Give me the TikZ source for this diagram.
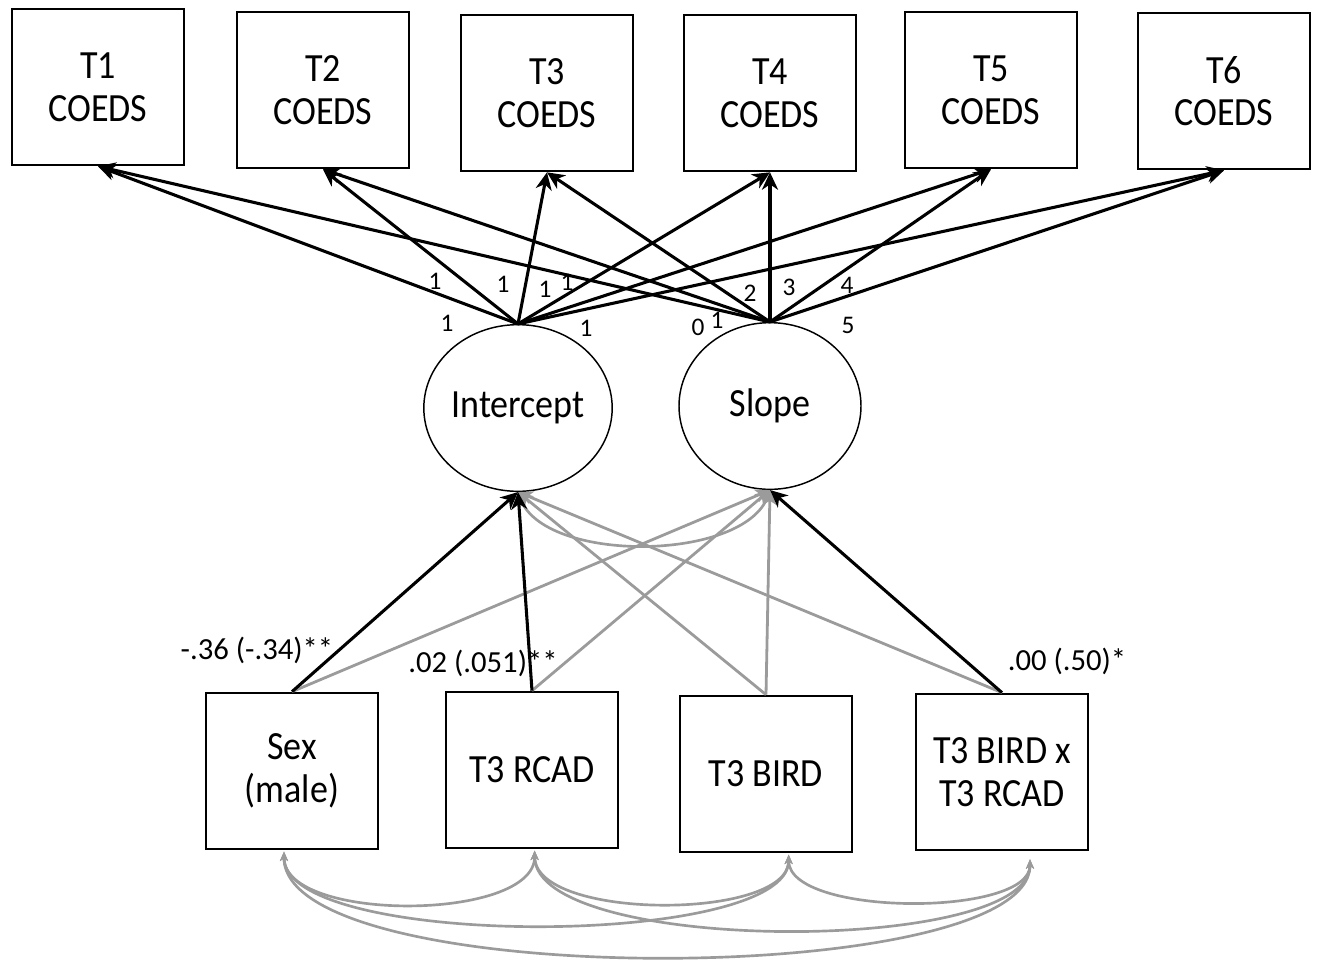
\documentclass[tikz,border=0pt]{standalone}
\usepackage{fontspec}
\setmainfont{Carlito}
\newfontfamily\boxfont[FakeStretch=0.9]{Carlito}
\usetikzlibrary{arrows.meta,shapes.geometric,calc}
\definecolor{pathgray}{RGB}{155,155,155}
\begin{document}
\begin{tikzpicture}[x=0.75pt,y=-0.75pt,
  obs/.style={draw,line width=1.5pt,minimum width=129pt,minimum height=117.5pt,inner sep=0pt,align=center,
    font=\boxfont\fontsize{30}{32}\selectfont},
  lat/.style={draw,ellipse,line width=1.1pt,minimum width=136.5pt,minimum height=125pt,inner sep=0pt,
    font=\boxfont\fontsize{30}{31}\selectfont},
  blk/.style={draw=black,line width=2.3pt,-{Stealth[length=13pt,width=12pt,inset=4pt]}},
  gry/.style={draw=pathgray,line width=2.1pt,-{Stealth[length=11pt,width=10pt,inset=3pt]}},
  cov/.style={draw=pathgray,line width=2pt,{Stealth[length=7pt,width=6pt,inset=2pt]}-{Stealth[length=7pt,width=6pt,inset=2pt]}},
  num/.style={font=\fontsize{19}{20}\selectfont,inner sep=0pt},
  coef/.style={font=\fontsize{23}{24}\selectfont,inner sep=0pt}]
\useasboundingbox (0,0) rectangle (1321,960);

% top observed
\node[obs] (t1) at (98,87) {T1\\COEDS};
\node[obs] (t2) at (323,90) {T2\\COEDS};
\node[obs] (t3) at (547,93) {T3\\COEDS};
\node[obs] (t4) at (770,93) {T4\\COEDS};
\node[obs] (t5) at (991,90) {T5\\COEDS};
\node[obs] (t6) at (1224,91) {T6\\COEDS};

% latent
\node[lat] (int) at (518,408) {Intercept};
\node[lat] (slo) at (770,406) {Slope};

% predictors
\node[obs] (sex) at (292,771) {Sex\\(male)};
\node[obs] (rcad) at (532,770) {T3 RCAD};
\node[obs] (bird) at (766,774) {T3 BIRD};
\node[obs] (inter) at (1002,772) {T3 BIRD x\\T3 RCAD};

% loadings
\foreach \t in {t1,t2,t3,t4,t5,t6}{
  \draw[blk] (int.north) -- (\t.south);
  \draw[blk] (slo.north) -- (\t.south);
}
\node[num] (l1) at (447,323) {1};
\node[num] (l2) at (435,281) {1};
\node[num] (l3) at (503,284) {1};
\node[num] (l4) at (545,289) {1};
\node[num] (l5) at (567,282) {1};
\node[num] (l6) at (586,328) {1};
\node[num] (s1) at (698,327) {0};
\node[num] (s2) at (717,320) {1};
\node[num] (s3) at (750,293) {2};
\node[num] (s4) at (789,287) {3};
\node[num] (s5) at (847,285) {4};
\node[num] (s6) at (848,325) {5};

% gray regressions
\draw[gry] (sex.north) -- (slo.south);
\draw[gry] (rcad.north) -- (slo.south);
\draw[gry] (bird.north) -- (int.south);
\draw[gry] (bird.north) -- (slo.south);
\draw[gry] (inter.north) -- (int.south);

% intercept-slope covariance
\draw[cov] (int.south) .. controls ($(int.south)+(25,72)$) and ($(slo.south)+(-25,72)$) .. (slo.south);

% black regressions
\draw[blk] (sex.north) -- (int.south);
\draw[blk] (rcad.north) -- (int.south);
\draw[blk] (inter.north) -- (slo.south);

\node[coef] (c1) at (257,650) {-.36 (-.34)**};
\node[coef] (c2) at (483,663) {.02 (.051)**};
\node[coef] (c3) at (1067,661) {.00 (.50)*};

% bottom covariances
\coordinate (sB) at ([xshift=-6pt,yshift=-1pt]sex.south);
\coordinate (rB) at ([xshift=2pt,yshift=-1pt]rcad.south);
\coordinate (bB) at ([xshift=17pt,yshift=-1pt]bird.south);
\coordinate (iB) at ([xshift=21pt,yshift=-6pt]inter.south);
\draw[cov] (sB) .. controls ($(sB)+(0,71)$) and ($(rB)+(0,71)$) .. (rB);
\draw[cov] (rB) .. controls ($(rB)+(0,70)$) and ($(bB)+(0,66)$) .. (bB);
\draw[cov] (bB) .. controls ($(bB)+(0,62)$) and ($(iB)+(0,58)$) .. (iB);
\draw[cov] (sB) .. controls ($(sB)+(0,98)$) and ($(bB)+(0,94)$) .. (bB);
\draw[cov] (rB) .. controls ($(rB)+(0,104)$) and ($(iB)+(0,96)$) .. (iB);
\draw[cov] (sB) .. controls ($(sB)+(0,140)$) and ($(iB)+(0,130)$) .. (iB);
\end{tikzpicture}
\end{document}
